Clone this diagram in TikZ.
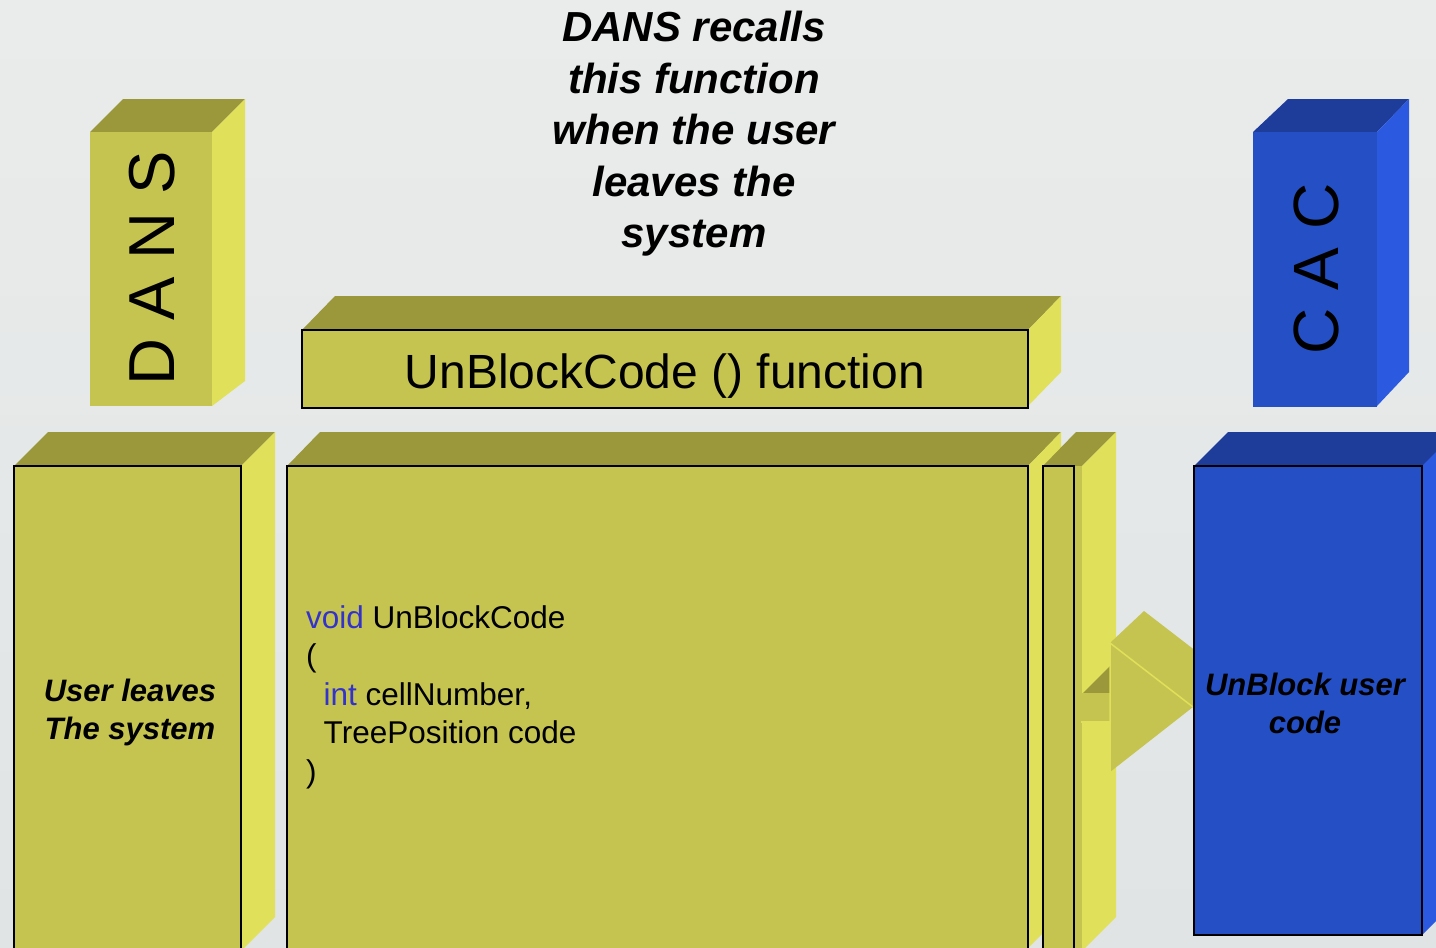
\documentclass[tikz,border=0pt]{standalone}
\usepackage{fontspec}
\setmainfont{Liberation Sans}
\definecolor{bgtop}{RGB}{234,236,235}
\definecolor{bgbot}{RGB}{224,228,229}
\definecolor{olfront}{RGB}{198,196,80}
\definecolor{oltop}{RGB}{154,152,58}
\definecolor{olside}{RGB}{224,224,90}
\definecolor{blfront}{RGB}{37,80,197}
\definecolor{bltop}{RGB}{30,60,154}
\definecolor{blside}{RGB}{43,90,224}
\definecolor{kw}{RGB}{51,51,204}
\tikzset{
  topface/.style={fill=oltop, draw=none},
  sideface/.style={fill=olside, draw=none},
  frontface/.style={fill=olfront, draw=none},
  btop/.style={fill=bltop, draw=none},
  bside/.style={fill=blside, draw=none},
  bfront/.style={fill=blfront, draw=none},
  outline/.style={draw=black, line width=2.4pt},
  lbl/.style={inner sep=0pt, text=black},
  edge/.style={draw=olside, line width=1.5pt},
}
\begin{document}
\begin{tikzpicture}[x=1pt,y=-1pt]
\useasboundingbox (0,0) rectangle (1436,948);
\clip (0,0) rectangle (1436,948);
% backdrop
\shade[top color=bgtop, bottom color=bgbot] (0,0) rectangle (1436,948);

% DANS pillar
\fill[topface] (90,132) -- (123,99) -- (245,99) -- (212,132) -- cycle;
\fill[sideface] (212,132) -- (245,99) -- (245,381) -- (212,406) -- cycle;
\fill[frontface] (90,132) rectangle (212,406);
\node[lbl, rotate=90, font=\fontsize{65}{65}\selectfont] (dans) at (152,268) {D A N S};

% CAC pillar
\fill[btop] (1253,132) -- (1288,99) -- (1409,99) -- (1377,132) -- cycle;
\fill[bside] (1377,132) -- (1409,99) -- (1409,372) -- (1377,406) -- cycle;
\fill[bfront] (1253,132) rectangle (1377,407);
\node[lbl, rotate=90, font=\fontsize{64}{64}\selectfont] (cac) at (1316,269) {C A C};

% heading
\node[lbl, align=center, font=\fontsize{42}{51.5}\selectfont\bfseries\itshape] (title) at (694,134)
  {DANS recalls\\this function\\when the user\\leaves the\\system};

% function bar
\fill[topface] (302,330) -- (335,296) -- (1061,296) -- (1028,330) -- cycle;
\fill[sideface] (1028,330) -- (1061,296) -- (1061,372) -- (1028,406) -- cycle;
\fill[frontface] (302,330) rectangle (1028,408);
\draw[outline] (302,330) rectangle (1028,408);
\node[lbl, font=\fontsize{48}{48}\selectfont] (func) at (665,376) {UnBlockCode () function};

% left block: user leaves
\fill[topface] (14,466) -- (48,432) -- (275,432) -- (241,466) -- cycle;
\fill[sideface] (241,466) -- (275,432) -- (275,917) -- (241,951) -- cycle;
\fill[frontface] (14,466) rectangle (241,970);
\draw[outline] (14,466) rectangle (241,970);
\node[lbl, align=center, font=\fontsize{31}{38}\selectfont\bfseries\itshape] (leave) at (130,712)
  {User leaves\\The system};

% central block with the code
\fill[topface] (287,466) -- (320,432) -- (1061,432) -- (1028,466) -- cycle;
\fill[sideface] (1028,466) -- (1061,432) -- (1061,915) -- (1028,948) -- cycle;
\fill[frontface] (287,466) rectangle (1028,970);
\draw[outline] (287,466) rectangle (1028,970);
\node[lbl, anchor=west, align=left, font=\fontsize{31.5}{38.5}\selectfont] (code) at (306,697)
  {\textcolor{kw}{void} UnBlockCode\\
   (\\
   \hspace*{17.5pt}\textcolor{kw}{int} cellNumber,\\
   \hspace*{17.5pt}TreePosition code\\
   )};

% thin slab behind the arrow
\fill[topface] (1043,466) -- (1076,432) -- (1116,432) -- (1082,466) -- cycle;
\fill[sideface] (1082,466) -- (1116,432) -- (1116,917) -- (1082,951) -- cycle;
\fill[frontface] (1043,466) rectangle (1082,970);
\draw[outline] (1043,466) rectangle (1074,970);

% block arrow towards CAC
\fill[topface] (1083,693) -- (1110,666) -- (1110,693) -- cycle;
\fill[frontface] (1081,693) rectangle (1110,722);
\draw[edge] (1081,722) -- (1110,722);
\fill[frontface] (1110,643) -- (1144,611) -- (1227,675) -- (1193,707) -- cycle;
\fill[frontface] (1110,643) -- (1193,707) -- (1110,772) -- cycle;
\draw[edge] (1110,772) -- (1110,643) -- (1193,707);

% right block: CAC side
\fill[btop] (1194,466) -- (1228,432) -- (1470,432) -- (1422,466) -- cycle;
\fill[bside] (1422,466) -- (1456,432) -- (1456,901) -- (1422,935) -- cycle;
\fill[bfront] (1194,466) rectangle (1422,935);
\draw[outline] (1194,466) rectangle (1422,935);
\node[lbl, align=center, font=\fontsize{31}{38}\selectfont\bfseries\itshape] (unblock) at (1305,703)
  {UnBlock user\\code};
\end{tikzpicture}
\end{document}
